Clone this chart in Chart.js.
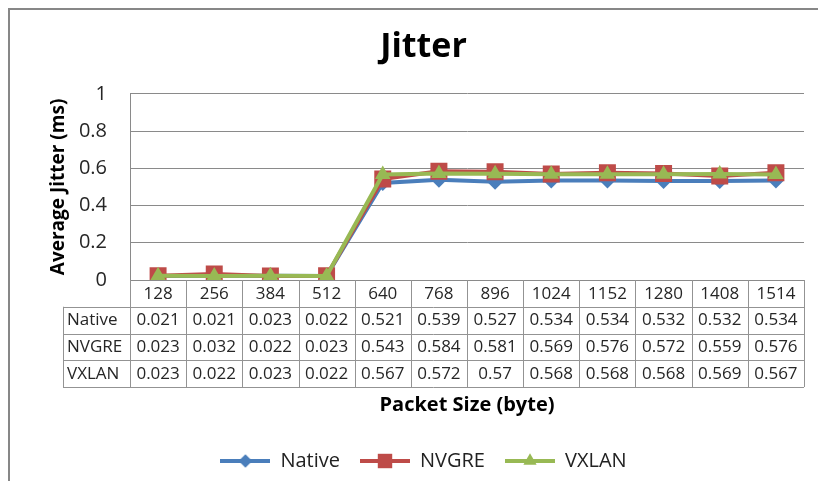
<!DOCTYPE html>
<html><head><meta charset="utf-8">
<script src="https://cdn.jsdelivr.net/npm/chart.js@4.4.1/dist/chart.umd.min.js"></script>
<style>html,body{margin:0;padding:0;background:#fff}canvas{display:block}</style>
</head><body>
<canvas id="c" width="818" height="481"></canvas>
<script>
const categories = ['128','256','384','512','640','768','896','1024','1152','1280','1408','1514'];
const nativeValues = [0.021,0.021,0.023,0.022,0.521,0.539,0.527,0.534,0.534,0.532,0.532,0.534];
const nvgreValues  = [0.023,0.032,0.022,0.023,0.543,0.584,0.581,0.569,0.576,0.572,0.559,0.576];
const vxlanValues  = [0.023,0.022,0.023,0.022,0.567,0.572,0.57,0.568,0.568,0.568,0.569,0.567];
const seriesNames = ['Native','NVGRE','VXLAN'];
const yTicks = [0,0.2,0.4,0.6,0.8,1];
const chartTitle = 'Jitter';
const xTitle = 'Packet Size (byte)';
const yTitle = 'Average Jitter (ms)';

const colors = ['#4A7EBB','#BE4B48','#98B954'];
const styles = ['rectRot','rect','triangle'];
const radii = [8,12,9];
const FONT = "'Open Sans', sans-serif";

function drawMarker(g, style, r, cx, cy) {
  g.beginPath();
  if (style === 'rectRot') {
    g.moveTo(cx - r, cy); g.lineTo(cx, cy - r); g.lineTo(cx + r, cy); g.lineTo(cx, cy + r);
  } else if (style === 'rect') {
    const s = r * Math.SQRT1_2;
    g.rect(cx - s, cy - s, 2 * s, 2 * s);
  } else {
    const h = r * Math.sin(Math.PI / 3);
    g.moveTo(cx, cy - r); g.lineTo(cx + h, cy + r / 2); g.lineTo(cx - h, cy + r / 2);
  }
  g.closePath();
  g.fill();
}
function makeIcon(i) {
  const c = document.createElement('canvas');
  c.width = 50; c.height = 24;
  const g = c.getContext('2d');
  g.strokeStyle = colors[i]; g.lineWidth = 4;
  g.beginPath(); g.moveTo(0, 12); g.lineTo(50, 12); g.stroke();
  g.fillStyle = colors[i];
  drawMarker(g, styles[i], radii[i] * 0.85, 25, 12);
  return c;
}
const icons = [0,1,2].map(makeIcon);

const borderPlugin = {
  id: 'outerBorder',
  beforeDraw(chart) {
    const ctx = chart.ctx;
    ctx.save();
    ctx.strokeStyle = '#878787';
    ctx.lineWidth = 2;
    ctx.beginPath();
    ctx.moveTo(9, 490); ctx.lineTo(9, 9); ctx.lineTo(830, 9);
    ctx.stroke();
    ctx.restore();
  }
};

const seriesValues = [nativeValues, nvgreValues, vxlanValues];
const tablePlugin = {
  id: 'dataTable',
  afterDraw(chart) {
    const {ctx, chartArea: a, scales: {x}} = chart;
    const rowH = 26.75;
    const labelLeft = 63;
    const top = a.bottom;
    const n = categories.length;
    const colW = x.getPixelForTick(1) - x.getPixelForTick(0);
    ctx.save();
    ctx.strokeStyle = '#939393';
    ctx.lineWidth = 1;
    ctx.beginPath();
    for (let i = 0; i <= n; i++) {
      const xx = Math.round(x.getPixelForTick(0) - colW / 2 + i * colW) + 0.5;
      ctx.moveTo(xx, top); ctx.lineTo(xx, top + rowH * 4);
    }
    ctx.moveTo(labelLeft + 0.5, top + rowH); ctx.lineTo(labelLeft + 0.5, top + rowH * 4);
    for (let r = 1; r <= 4; r++) {
      const yy = Math.round(top + r * rowH) + 0.5;
      ctx.moveTo(labelLeft, yy); ctx.lineTo(a.right, yy);
    }
    ctx.stroke();
    ctx.font = "17px " + FONT;
    ctx.fillStyle = '#262626';
    ctx.textBaseline = 'middle';
    for (let s = 0; s < seriesValues.length; s++) {
      const cy = top + rowH * (s + 1.5) + 0.5;
      ctx.textAlign = 'left';
      ctx.fillText(seriesNames[s], labelLeft + 4, cy);
      ctx.textAlign = 'center';
      seriesValues[s].forEach((v, i) => {
        ctx.fillText(String(v), x.getPixelForTick(i), cy);
      });
    }
    ctx.restore();
  }
};

new Chart(document.getElementById('c'), {
  type: 'line',
  data: {
    labels: categories,
    datasets: seriesNames.map((name, i) => ({
      label: name,
      data: seriesValues[i],
      borderColor: colors[i],
      backgroundColor: colors[i],
      borderWidth: 4,
      pointStyle: styles[i],
      pointRadius: radii[i],
      pointHoverRadius: radii[i],
      pointBorderWidth: 0,
      pointBackgroundColor: colors[i],
      tension: 0,
      order: 3 - i
    }))
  },
  options: {
    responsive: false,
    animation: false,
    events: [],
    layout: { padding: { left: 43, right: 14, top: 0, bottom: 0 } },
    plugins: {
      tooltip: { enabled: false },
      title: {
        display: true,
        text: chartTitle,
        color: '#000',
        font: { family: FONT, size: 34, weight: 'bold' },
        padding: { top: 27, bottom: 26 }
      },
      legend: {
        position: 'bottom',
        labels: {
          usePointStyle: true,
          pointStyleWidth: 50,
          padding: 20,
          color: '#222',
          font: { family: FONT, size: 20 },
          generateLabels: (chart) => chart.data.datasets.map((ds, i) => ({
            text: ds.label,
            pointStyle: icons[i],
            fillStyle: colors[i],
            strokeStyle: colors[i],
            lineWidth: 0,
            hidden: false,
            datasetIndex: i,
            fontColor: '#222'
          }))
        }
      }
    },
    scales: {
      x: {
        type: 'category',
        offset: true,
        grid: { display: false, drawTicks: false },
        border: { display: false },
        ticks: { color: '#262626', font: { family: FONT, size: 17 }, padding: 4, maxRotation: 0, autoSkip: false },
        title: {
          display: true, text: xTitle, color: '#000',
          font: { family: FONT, size: 20, weight: 'bold' },
          padding: { top: 0, bottom: 14 }
        },
        afterFit: (s) => { s.height = 151; }
      },
      y: {
        min: 0, max: 1,
        afterBuildTicks: (s) => { s.ticks = yTicks.map(v => ({ value: v })); },
        grid: { color: '#8a8a8a', drawTicks: false },
        border: { display: true, color: '#8a8a8a' },
        ticks: { color: '#262626', font: { family: FONT, size: 20 }, padding: 23, callback: (v) => String(v) },
        title: {
          display: true, text: yTitle, color: '#000',
          font: { family: FONT, size: 19, weight: 'bold' },
          padding: { top: 4, bottom: 0 }
        },
        afterFit: (s) => { s.width = 87; }
      }
    }
  },
  plugins: [borderPlugin, tablePlugin]
});
</script>
</body></html>
